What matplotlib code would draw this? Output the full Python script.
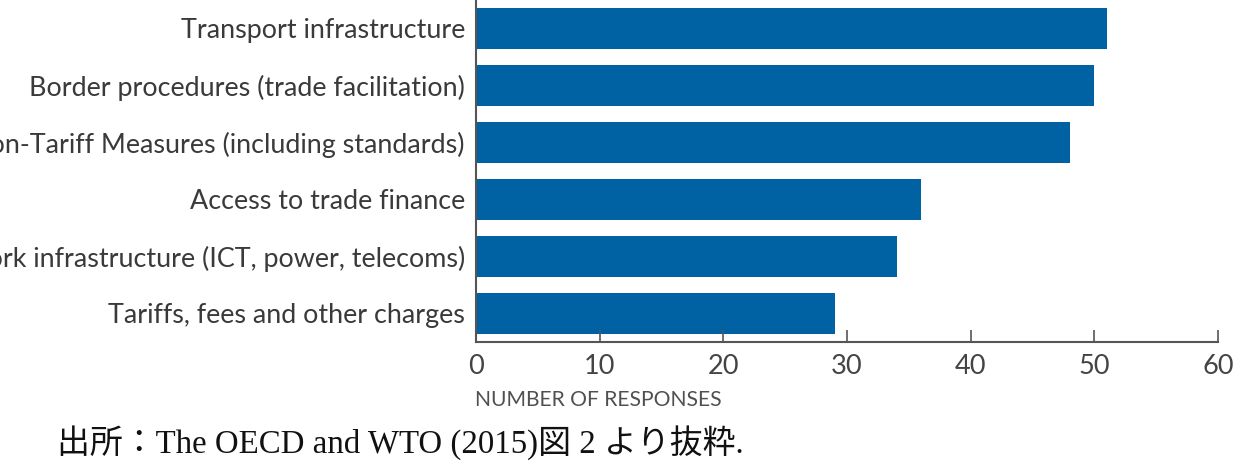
import matplotlib.pyplot as plt

categories = [
    "Transport infrastructure",
    "Border procedures (trade facilitation)",
    "Non-Tariff Measures (including standards)",
    "Access to trade finance",
    "Network infrastructure (ICT, power, telecoms)",
    "Tariffs, fees and other charges",
]
responses = [51, 50, 48, 36, 34, 29]
x_ticks = [0, 10, 20, 30, 40, 50, 60]
x_label = "NUMBER OF RESPONSES"
source = "出所：The OECD and WTO (2015)図 2 より抜粋."

bar_color = "#0061a3"
text_color = "#3a3a3a"
label_font = "Lato"

fig = plt.figure(figsize=(12.41, 4.71), dpi=100)
ax = fig.add_axes([0.3836, 0.274, 0.5979, 0.726])

# top category drawn at the top
ypos = list(range(len(categories)))[::-1]
ax.barh(ypos, responses, height=0.72, color=bar_color, edgecolor="none")

ax.set_xlim(0, 60)
ax.set_ylim(-0.5, 5.5)
ax.set_xticks(x_ticks)
ax.set_xticklabels([str(t) for t in x_ticks], family=label_font,
                   fontsize=19.5, color="#444444")
ax.set_yticks(ypos)
ax.set_yticklabels(categories, family=label_font, fontsize=19.4,
                   color=text_color)

for side in ("top", "right"):
    ax.spines[side].set_visible(False)
for side in ("left", "bottom"):
    ax.spines[side].set_color("#555555")
    ax.spines[side].set_linewidth(1.5)

ax.tick_params(axis="x", direction="in", length=9, width=1.2,
               color="#555555", pad=9)
ax.tick_params(axis="y", length=0, pad=8)

fig.text(0.3825, 0.151, x_label, family=label_font, fontsize=15.2,
         color="#505050", ha="left", va="center")

fig.text(0.046, 0.0595, source, family=["Liberation Serif", "Noto Sans CJK JP"],
         fontsize=23.7, color="#111111", ha="left", va="center")

fig.savefig("out.png", dpi=100)
